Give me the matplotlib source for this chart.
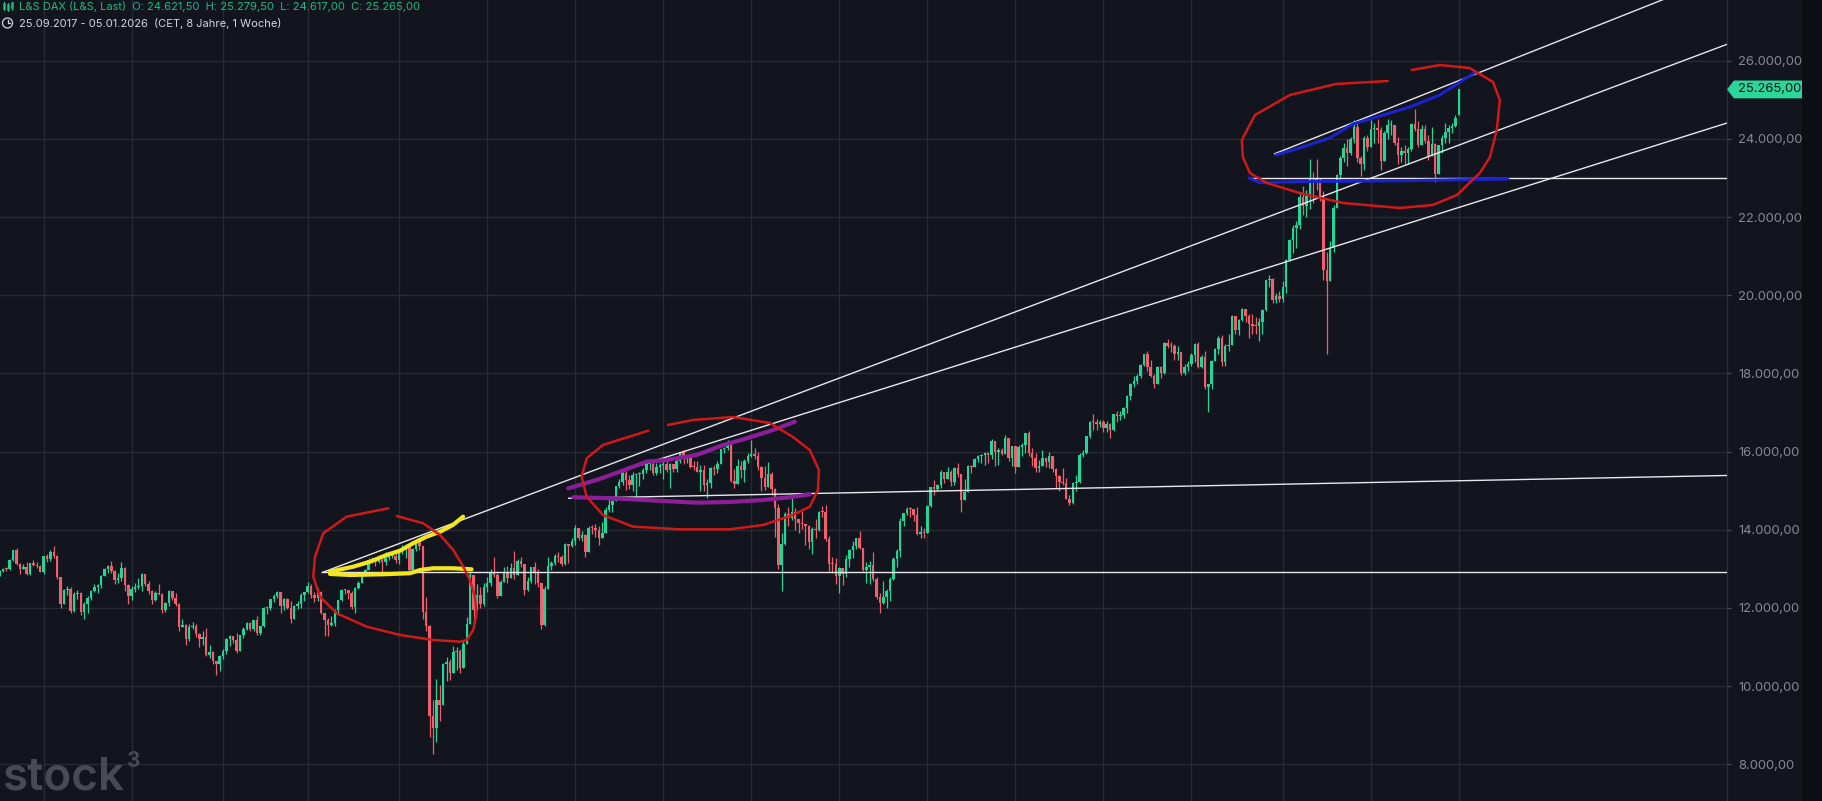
import numpy as np
import pandas as pd
import matplotlib
matplotlib.use("Agg")
import matplotlib.pyplot as plt
from matplotlib.patches import Polygon, Circle
from matplotlib.lines import Line2D
from matplotlib.transforms import IdentityTransform

# ---------------- weekly OHLC, L&S DAX, first week 25.09.2017 ----------------
first_week = "2017-09-25"

opens = [
    12592, 12829, 12955, 12992, 12991, 13217, 13479, 13127, 12994, 13060, 12861, 13153, 13104, 13073,
    12918, 13320, 13245, 13434, 13340, 12785, 12107, 12452, 12483, 11914, 12347, 12390, 11887, 12097, 12242, 12442, 12540, 12580, 12820, 13001, 13078, 12938, 12724, 12767, 13011, 12580, 12306, 12496, 12541, 12561, 12860, 12616, 12424, 12210, 12394, 12364, 11960, 12124, 12431, 12247, 12111, 11524, 11554, 11201, 11519, 11529, 11342, 11193, 11257, 10788, 10866, 10634,
    10559, 10768, 10888, 11205, 11282, 11181, 10907, 11299, 11457, 11602, 11458, 11686, 11364, 11526, 12010, 12000, 12222, 12315, 12412, 12060, 12239, 12011, 11727, 12045, 12096, 12340, 12399, 12568, 12323, 12260, 12419, 11872, 11694, 11562, 11612, 11939, 12191, 12469, 12468, 12381, 12013, 12512, 12634, 12895, 12962, 13228, 13242, 13164, 13236, 13166, 13283, 13318, 13337,
    13219, 13483, 13526, 13577, 12982, 13514, 13745, 13579, 11890, 11542, 9232, 8929, 9633, 9526, 10565, 10626, 10337, 10862, 10904, 10465, 11074, 11587, 12848, 11949, 12331, 12089, 12528, 12633, 12920, 12838, 12313, 12675, 12901, 12765, 13033, 12842, 13203, 13116, 12469, 12689, 13051, 12909, 12646, 11556, 12480, 13077, 13137, 13336, 13299, 13114, 13631, 13587,
    13719, 14050, 13788, 13873, 13433, 14057, 14050, 13993, 13786, 13920, 14502, 14621, 14748, 15107, 15234, 15460, 15280, 15136, 15400, 15416, 15438, 15520, 15693, 15693, 15448, 15608, 15650, 15688, 15540, 15670, 15544, 15761, 15977, 15808, 15852, 15610, 15609, 15490, 15531, 15156, 15207, 15587, 15543, 15688, 16054, 16094, 16160, 15257, 15170, 15623, 15531, 15756,
    15885, 15948, 15883, 15604, 15318, 15100, 15425, 15042, 14567, 13095, 13628, 14413, 14306, 14446, 14284, 14164, 14142, 14098, 13675, 14027, 13982, 14462, 14460, 13762, 13127, 13118, 12813, 13015, 12865, 13254, 13484, 13574, 13795, 13544, 12971, 13050, 13088, 12741, 12284, 12114, 12273, 12438, 12731, 13243, 13460, 14224, 14431, 14541, 14529, 14370, 13893, 13940,
    13924, 14610, 15087, 15033, 15150, 15476, 15308, 15482, 15210, 15578, 15428, 14768, 14957, 15629, 15598, 15808, 15882, 15922, 15961, 15914, 16275, 15983, 16051, 15950, 16357, 15830, 16148, 15603, 16105, 16177, 16470, 15952, 15832, 15574, 15632, 15840, 15740, 15894, 15557, 15387, 15229, 15187, 14798, 14687, 15189, 15234, 15919, 15967, 16398, 16759, 16751, 16706,
    16752, 16594, 16705, 16555, 16961, 16918, 16926, 17117, 17419, 17735, 17815, 17936, 18206, 18492, 18175, 17930, 17737, 18161, 18002, 18773, 18704, 18694, 18498, 18557, 18002, 18163, 18235, 18475, 18748, 18171, 18418, 17661, 17723, 18322, 18633, 18907, 18302, 18699, 18720, 19474, 19121, 19374, 19657, 19464, 19255, 19216, 19211, 19323, 19626, 20384, 20406, 19885, 19984,
    19906, 20214, 20903, 21411, 21732, 21787, 22513, 22287, 22551, 23009, 22987, 22892, 22461, 20642, 20374, 21206, 22242, 23087, 23499, 23767, 23630, 23997, 24304, 23516, 23350, 24033, 23787, 24255, 24290, 24217, 23426, 24163, 24359, 24363, 23902, 23597, 23698, 23639, 23739, 24378, 24241, 23831, 24240, 23958, 23569, 23877, 23091, 23837, 24028, 24186, 24288, 24340,
    24621.5,
]

highs = [
    12840, 12980, 13030, 13050, 13240, 13480, 13525, 13150, 13130, 13170, 13160, 13230, 13180, 13100,
    13330, 13390, 13480, 13597, 13360, 12800, 12480, 12550, 12530, 12400, 12460, 12420, 12140, 12300, 12470, 12620, 12620, 12830, 13020, 13100, 13200, 12970, 12890, 13170, 13050, 12600, 12550, 12630, 12760, 12890, 12880, 12690, 12460, 12440, 12600, 12380, 12150, 12470, 12440, 12380, 12130, 11720, 11600, 11600, 11640, 11580, 11350, 11400, 11480, 11050, 10900, 10640,
    10800, 10960, 11230, 11300, 11250, 11370, 11320, 11500, 11640, 11650, 11700, 11790, 11550, 12020, 12040, 12240, 12360, 12440, 12400, 12260, 12250, 12170, 12080, 12170, 12380, 12400, 12660, 12600, 12420, 12500, 12430, 11800, 11750, 11800, 11980, 12200, 12490, 12490, 12450, 12440, 12530, 12700, 12930, 12990, 13290, 13310, 13270, 13300, 13270, 13420, 13430, 13360, 13430,
    13500, 13600, 13640, 13600, 13530, 13760, 13795, 13580, 12270, 11560, 9650, 10180, 10030, 10580, 10740, 10700, 11030, 10990, 10950, 11160, 11780, 12910, 12850, 12610, 12540, 12630, 12800, 13000, 13310, 12900, 12710, 13060, 13070, 13150, 13460, 13250, 13300, 13120, 12800, 13060, 13180, 12990, 12650, 12560, 13300, 13200, 13370, 13420, 13350, 13660, 13600, 13800,
    14130, 14050, 13970, 13880, 14090, 14110, 14160, 14100, 14200, 14570, 14800, 14760, 15120, 15300, 15500, 15500, 15400, 15470, 15450, 15480, 15570, 15730, 15740, 15800, 15700, 15700, 15810, 15800, 15710, 15680, 15810, 15990, 16030, 15920, 15950, 15750, 15760, 15660, 15650, 15300, 15600, 15650, 15760, 16070, 16120, 16290, 16240, 15550, 15810, 15760, 15810, 15960,
    16285, 16080, 16000, 15620, 15640, 15740, 15470, 15080, 14650, 13930, 14450, 14580, 14820, 14550, 14260, 14480, 14150, 14130, 14060, 14270, 14470, 14600, 14640, 13850, 13300, 13290, 13050, 12960, 13360, 13500, 13700, 13800, 13960, 13380, 13170, 13200, 13420, 12800, 12380, 12690, 12480, 12790, 13300, 13500, 14290, 14440, 14580, 14580, 14530, 14590, 14100, 14040,
    14640, 15100, 15270, 15180, 15530, 15450, 15600, 15540, 15600, 15700, 15400, 15300, 15650, 15650, 15830, 15900, 15950, 16000, 15980, 16330, 16280, 16080, 16100, 16430, 16330, 16150, 16150, 16170, 16230, 16480, 16528, 16100, 15960, 15790, 16030, 15850, 15990, 15800, 15570, 15400, 15580, 15330, 14890, 15230, 15400, 15960, 16050, 16410, 16790, 16960, 16830, 16820,
    16800, 16790, 16730, 16970, 17030, 17040, 17130, 17440, 17760, 17930, 17990, 18230, 18500, 18570, 18350, 17980, 18200, 18190, 18800, 18890, 18800, 18750, 18700, 18500, 18250, 18330, 18520, 18790, 18800, 18480, 18580, 17740, 18350, 18650, 18960, 18990, 18740, 19000, 19500, 19480, 19380, 19680, 19630, 19520, 19530, 19450, 19430, 19650, 20400, 20520, 20440, 20050, 20100,
    20370, 20930, 21450, 21800, 21900, 22630, 22800, 22700, 23480, 23160, 23480, 23000, 22670, 21100, 21400, 22300, 23100, 23550, 23900, 24000, 24050, 24480, 24400, 23560, 24070, 24100, 24480, 24400, 24500, 24300, 24200, 24500, 24480, 24300, 24050, 23800, 23850, 23800, 24400, 24771, 24450, 24350, 24350, 24100, 24300, 23900, 23850, 24100, 24400, 24350, 24400, 24600,
    25279.5,
]

lows = [
    12550, 12830, 12930, 12940, 12970, 13200, 13100, 12860, 12990, 12850, 12850, 13070, 13030, 12910,
    12880, 13170, 13200, 13280, 12740, 12003, 12100, 12340, 11860, 11900, 12230, 11830, 11727, 11860, 12200, 12400, 12390, 12520, 12810, 12900, 12900, 12600, 12650, 12700, 12430, 12100, 12210, 12420, 12480, 12440, 12560, 12360, 12100, 12180, 12330, 11865, 11900, 12050, 12200, 12050, 11410, 11500, 11050, 11150, 11450, 11250, 11010, 11060, 10760, 10730, 10560, 10280,
    10380, 10700, 10830, 11020, 11100, 10860, 10950, 11220, 11430, 11400, 11400, 11320, 11300, 11500, 11840, 11960, 12140, 12260, 11870, 11950, 11980, 11620, 11760, 11980, 12000, 12190, 12380, 12260, 12150, 12180, 11840, 11270, 11270, 11540, 11550, 11830, 12180, 12360, 12240, 11970, 11880, 12480, 12640, 12820, 13000, 13150, 13080, 13140, 12900, 13100, 13220, 13280, 13140,
    13130, 13380, 13290, 12950, 12960, 13450, 13480, 11720, 11400, 8700, 8256, 8580, 9120, 9600, 10130, 10150, 10340, 10400, 10340, 10600, 11070, 11600, 11650, 11940, 12000, 12060, 12420, 12560, 12780, 12250, 12300, 12670, 12650, 12850, 12750, 12850, 13050, 12340, 12430, 12650, 12620, 12530, 11450, 11540, 12500, 12960, 13100, 13170, 13080, 13100, 13160, 13570,
    13600, 13740, 13720, 13310, 13460, 13890, 13820, 13600, 13800, 13930, 14450, 14450, 14780, 15080, 15150, 15030, 15040, 15000, 14820, 15110, 15300, 15460, 15530, 15410, 15400, 15450, 15310, 15480, 15060, 15480, 15480, 15700, 15690, 15700, 15580, 15520, 15480, 14980, 15000, 14820, 15080, 15400, 15440, 15680, 15960, 16050, 15210, 15060, 15260, 15330, 15220, 15720,
    15850, 15800, 15520, 14990, 15010, 15180, 14900, 13810, 13000, 12440, 13600, 14100, 14250, 14000, 13920, 14030, 13620, 13500, 13380, 13800, 13980, 14330, 13720, 12950, 12900, 12610, 12390, 12590, 12800, 13050, 13290, 13520, 13500, 12940, 12630, 12600, 12700, 12240, 11862, 12100, 11990, 12170, 12720, 13040, 13300, 14100, 14370, 14330, 14230, 13870, 13790, 13780,
    13920, 14580, 14900, 14980, 15070, 15200, 15290, 15130, 15150, 15360, 14458, 14800, 14970, 15440, 15600, 15740, 15700, 15660, 15700, 15800, 15630, 15660, 15900, 15930, 15770, 15640, 15460, 15640, 15880, 15970, 15880, 15640, 15470, 15480, 15630, 15600, 15580, 15480, 15080, 15000, 15150, 14780, 14630, 14650, 15000, 15200, 15850, 15950, 16360, 16550, 16550, 16640,
    16510, 16500, 16350, 16530, 16760, 16800, 16860, 16990, 17320, 17650, 17740, 17870, 18200, 18050, 17900, 17630, 17770, 17880, 17990, 18650, 18550, 18350, 18350, 17950, 17960, 18050, 18180, 18300, 18140, 18140, 17600, 17024, 17600, 18320, 18500, 18200, 18200, 18580, 18740, 19000, 18980, 19350, 19320, 18900, 19000, 19000, 18830, 19000, 19600, 20200, 19800, 19800, 19820,
    19830, 20060, 20870, 21070, 21200, 21700, 22050, 22000, 22200, 22370, 22700, 22400, 20400, 18490, 20500, 21100, 22300, 22900, 23400, 23300, 23600, 23900, 23400, 23050, 23200, 23700, 23800, 23900, 23900, 23200, 23500, 24000, 24100, 23850, 23350, 23400, 23350, 23350, 23700, 24200, 23800, 23900, 23900, 23450, 23700, 22900, 23100, 23650, 23900, 23900, 24150, 24300,
    24617.0,
]

closes = [
    12829, 12955, 12992, 12991, 13217, 13479, 13127, 12994, 13060, 12861, 13153, 13104, 13073, 12918,
    13320, 13245, 13434, 13340, 12785, 12107, 12452, 12483, 11914, 12347, 12390, 11887, 12097, 12242, 12442, 12540, 12580, 12820, 13001, 13078, 12938, 12724, 12767, 13011, 12580, 12306, 12496, 12541, 12561, 12860, 12616, 12424, 12210, 12394, 12364, 11960, 12124, 12431, 12247, 12111, 11524, 11554, 11201, 11519, 11529, 11342, 11193, 11257, 10788, 10866, 10634, 10559,
    10768, 10888, 11205, 11282, 11181, 10907, 11299, 11457, 11602, 11458, 11686, 11364, 11526, 12010, 12000, 12222, 12315, 12412, 12060, 12239, 12011, 11727, 12045, 12096, 12340, 12399, 12568, 12323, 12260, 12419, 11872, 11694, 11562, 11612, 11939, 12191, 12469, 12468, 12381, 12013, 12512, 12634, 12895, 12962, 13228, 13242, 13164, 13236, 13166, 13283, 13318, 13337, 13219,
    13483, 13526, 13577, 12982, 13514, 13745, 13579, 11890, 11542, 9232, 8929, 9633, 9526, 10565, 10626, 10337, 10862, 10904, 10465, 11074, 11587, 12848, 11949, 12331, 12089, 12528, 12633, 12920, 12838, 12313, 12675, 12901, 12765, 13033, 12842, 13203, 13116, 12469, 12689, 13051, 12909, 12646, 11556, 12480, 13077, 13137, 13336, 13299, 13114, 13631, 13587, 13719,
    14050, 13788, 13873, 13433, 14057, 14050, 13993, 13786, 13920, 14502, 14621, 14748, 15107, 15234, 15460, 15280, 15136, 15400, 15416, 15438, 15520, 15693, 15693, 15448, 15608, 15650, 15688, 15540, 15670, 15544, 15761, 15977, 15808, 15852, 15610, 15609, 15490, 15531, 15156, 15207, 15587, 15543, 15688, 16054, 16094, 16160, 15257, 15170, 15623, 15531, 15756, 15885,
    15948, 15883, 15604, 15318, 15100, 15425, 15042, 14567, 13095, 13628, 14413, 14306, 14446, 14284, 14164, 14142, 14098, 13675, 14027, 13982, 14462, 14460, 13762, 13127, 13118, 12813, 13015, 12865, 13254, 13484, 13574, 13795, 13544, 12971, 13050, 13088, 12741, 12284, 12114, 12273, 12438, 12731, 13243, 13460, 14224, 14431, 14541, 14529, 14370, 13893, 13940, 13924,
    14610, 15087, 15033, 15150, 15476, 15308, 15482, 15210, 15578, 15428, 14768, 14957, 15629, 15598, 15808, 15882, 15922, 15961, 15914, 16275, 15983, 16051, 15950, 16357, 15830, 16148, 15603, 16105, 16177, 16470, 15952, 15832, 15574, 15632, 15840, 15740, 15894, 15557, 15387, 15229, 15187, 14798, 14687, 15189, 15234, 15919, 15967, 16398, 16759, 16751, 16706, 16752,
    16594, 16705, 16555, 16961, 16918, 16926, 17117, 17419, 17735, 17815, 17936, 18206, 18492, 18175, 17930, 17737, 18161, 18002, 18773, 18704, 18694, 18498, 18557, 18002, 18163, 18235, 18475, 18748, 18171, 18418, 17661, 17723, 18322, 18633, 18907, 18302, 18699, 18720, 19474, 19121, 19374, 19657, 19464, 19255, 19216, 19211, 19323, 19626, 20384, 20406, 19885, 19984, 19906,
    20214, 20903, 21411, 21732, 21787, 22513, 22287, 22551, 23009, 22987, 22892, 22461, 20642, 20374, 21206, 22242, 23087, 23499, 23767, 23630, 23997, 24304, 23516, 23350, 24033, 23787, 24255, 24290, 24217, 23426, 24163, 24359, 24363, 23902, 23597, 23698, 23639, 23739, 24378, 24241, 23831, 24240, 23958, 23569, 23877, 23091, 23837, 24028, 24186, 24288, 24340, 24540,
    25265.0,
]

y_ticks = [8000, 10000, 12000, 14000, 16000, 18000, 20000, 22000, 24000, 26000]

# ---------------- hand-drawn annotations (week index, price) ----------------
white_lines = [
    ([96.1, 511.2], [12900, 26420]),     # long rising line from 2020 start
    ([168.9, 511.2], [15069, 24406]),    # second rising line from 2021
    ([168.9, 511.2], [14805, 15389]),    # flat support line
    ([96.1, 511.2], [12912, 12912]),     # horizontal at ~12.900
    ([370.3, 511.2], [23012, 23012]),    # horizontal at ~23.000
    ([377.4, 500.0], [23613, 27828]),    # channel top 2025
]
yellow_upper = ([98.6, 105.5, 110.4, 115.3, 119.3, 123.1, 127.1, 131.1, 134.9, 137.9],
                [12928, 13056, 13183, 13355, 13465, 13654, 13823, 13951, 14123, 14335])
yellow_lower = ([98.6, 104.5, 114.2, 122.2, 125.2, 129.0, 134.9, 140.4],
                [12869, 12843, 12861, 12887, 12971, 13015, 13015, 12989])
purple_upper = ([168.96, 177.35, 184.2, 192.1, 198.0, 206.9, 214.7, 221.7, 229.5, 235.9],
                [15061, 15273, 15486, 15742, 15785, 15913, 16169, 16340, 16553, 16765])
purple_lower = ([170.4, 182.2, 197.0, 206.9, 216.7, 226.5, 234.4, 240.3],
                [14831, 14805, 14736, 14693, 14711, 14762, 14831, 14908])
blue_upper = ([377.97, 385.0, 393.9, 400.7, 408.7, 417.5, 426.4, 437.0],
              [23588, 23767, 24023, 24381, 24586, 24816, 25123, 25711])
blue_lower = ([370.0, 373.2, 385.0, 415.0, 446.5],
              [23000, 22880, 22905, 22930, 22974])
red_circle_1 = ([115.8, 103.5, 96.6, 94.15, 93.65, 95.6, 100.6, 109.4, 119.3, 129.1, 137.0, 138.95, 140.9,
                 141.9, 141.4, 139.9, 137.95, 135.0, 131.1, 126.1, 118.3],
                [14549, 14335, 13910, 13311, 12800, 12288, 11863, 11521, 11308, 11180, 11137, 11180, 11436,
                 11863, 12288, 12715, 13056, 13483, 13867, 14166, 14353])
red_circle_2 = ([192.6, 179.2, 174.4, 172.9, 174.4, 179.2, 188.1, 201.9, 216.7, 226.5, 235.3, 240.3, 242.7,
                 243.0, 240.3, 235.3, 228.5, 217.6, 205.8, 198.4],
                [16535, 16169, 15829, 15358, 14846, 14378, 14079, 14012, 14012, 14122, 14378, 14590, 15018,
                 15529, 16041, 16374, 16732, 16885, 16808, 16681])
red_circle_3 = ([411.0, 395.7, 382.1, 371.8, 367.9, 368.2, 370.3, 375.3, 385.0, 397.8, 414.6, 424.3, 431.4,
                 438.2, 441.2, 443.2, 444.1, 442.1, 435.2, 426.4, 418.1],
                [25481, 25404, 25123, 24611, 23971, 23536, 23127, 22871, 22615, 22360, 22232, 22309, 22564,
                 23127, 23536, 24227, 24995, 25455, 25813, 25890, 25762])

# ---------------- style ----------------
W, H, DPI = 1822, 801, 100
BG = "#12151d"
GRID = "#262a33"
UP = "#27d497"
DOWN = "#f0606c"
TXT = "#868993"
FONT = ["Inter", "DejaVu Sans"]

O = np.array(opens, float)
Hh = np.array(highs, float)
L = np.array(lows, float)
C = np.array(closes, float)
n = len(C)
x = np.arange(n)
dates = pd.date_range(first_week, periods=n, freq="7D")

fig = plt.figure(figsize=(W / DPI, H / DPI), dpi=DPI, facecolor=BG)
fig.patches.append(plt.Rectangle((1802 / W, 0), 20 / W, 1, transform=fig.transFigure,
                                 facecolor="#0d0f14", edgecolor="none", zorder=0))
ax = fig.add_axes([0, 0, 1727 / W, 1])
ax.set_facecolor(BG)
ax.set_xlim(1.12, 511.2)
ax.set_ylim(7061, 27553)

grid_x = [i for i in range(1, n) if dates[i].month in (1, 7) and dates[i].month != dates[i - 1].month]
ax.set_xticks(grid_x)
ax.set_yticks(y_ticks)
ax.grid(True, color=GRID, lw=1.0, zorder=0)
ax.set_axisbelow(True)
ax.tick_params(axis="x", length=0, labelbottom=False)
ax.yaxis.tick_right()
ax.tick_params(axis="y", length=3, width=0.8, color="#4a4d56", pad=5, labelsize=9.4,
               labelcolor=TXT)
fmt = lambda v: f"{v:,.2f}".replace(",", "X").replace(".", ",").replace("X", ".")
ax.set_yticklabels([fmt(v) for v in y_ticks], family=FONT)
for s in ("top", "left", "bottom"):
    ax.spines[s].set_visible(False)
ax.spines["right"].set_color("#2a2e37")
ax.spines["right"].set_linewidth(1.0)

# candles
up = C >= O
cols = np.where(up, UP, DOWN)
body_lo = np.minimum(O, C)
body_hi = np.maximum(O, C)
ax.vlines(x, np.minimum(L, body_lo), np.maximum(Hh, body_hi), colors=cols, lw=0.9, zorder=2)
ax.bar(x, np.maximum(body_hi - body_lo, 25), width=0.74, bottom=body_lo, color=cols,
       linewidth=0, zorder=2.1)

# drawings
for xs, ys in white_lines:
    ax.plot(xs, ys, color="#e8e8ec", lw=1.0, zorder=3, solid_capstyle="butt")
kw = dict(solid_capstyle="round", solid_joinstyle="round")
ax.plot(*yellow_lower, color="#f3e51e", lw=3.0, zorder=4, **kw)
ax.plot(*yellow_upper, color="#f3e51e", lw=3.0, zorder=4, **kw)
ax.plot(*purple_upper, color="#8c1f98", lw=3.0, zorder=4, **kw)
ax.plot(*purple_lower, color="#8c1f98", lw=3.0, zorder=4, **kw)
ax.plot(*blue_lower, color="#1b22cf", lw=2.2, zorder=3.5, **kw)
ax.plot(*blue_upper, color="#1b22cf", lw=2.2, zorder=4, **kw)
for circ in (red_circle_1, red_circle_2, red_circle_3):
    ax.plot(*circ, color="#d01919", lw=1.8, zorder=5, **kw)

# last price tag
last = C[-1]
tr = ax.get_yaxis_transform()
hh = 228
tag = Polygon([(1.0, last), (1.0040, last + hh), (1802 / 1727, last + hh),
               (1802 / 1727, last - hh), (1.0040, last - hh)], closed=True,
              transform=tr, facecolor="#2bd69a", edgecolor="none", clip_on=False, zorder=6)
ax.add_patch(tag)
ax.text(1738 / 1727, last, fmt(last), transform=tr, ha="left", va="center",
        fontsize=9.4, color="#0c1016", family=FONT, clip_on=False, zorder=7)

# header
hdr = (f"L&S DAX (L&S, Last)  O: {fmt(O[-1])}  H: {fmt(Hh[-1])}  "
       f"L: {fmt(L[-1])}  C: {fmt(C[-1])}")
fig.text(19 / W, 1 - 10.5 / H, hdr, fontsize=8.0, color="#22b980", family=FONT, va="baseline")
fig.text(19 / W, 1 - 27 / H, "25.09.2017 - 05.01.2026  (CET, 8 Jahre, 1 Woche)",
         fontsize=8.0, color="#d4d6dc", family=FONT, va="baseline")
idt = IdentityTransform()
for xx, y0, y1, b0, b1 in [(4, 2, 10, 4, 8), (8, 3, 11, 5, 9), (12, 2, 10, 3, 7)]:
    fig.add_artist(Line2D([xx, xx], [H - y1, H - y0], transform=idt, color="#22b980", lw=0.7))
    fig.add_artist(Line2D([xx, xx], [H - b1, H - b0], transform=idt, color="#22b980", lw=1.8))
fig.add_artist(Circle((7.5, H - 23), 5, transform=idt, fill=False, edgecolor="#d4d6dc", lw=0.9))
fig.add_artist(Line2D([7.5, 7.5, 10], [H - 20, H - 23, H - 23], transform=idt, color="#d4d6dc", lw=0.9))

# watermark
fig.text(2 / W, 1 - 790 / H, "stock", fontsize=33, color="#474a53", family=FONT,
         weight="semibold", va="baseline")
fig.text(127 / W, 1 - 751 / H, "3", fontsize=15, color="#474a53", family=FONT,
         weight="bold", va="top")

fig.savefig("out.png", dpi=DPI, facecolor=BG)
